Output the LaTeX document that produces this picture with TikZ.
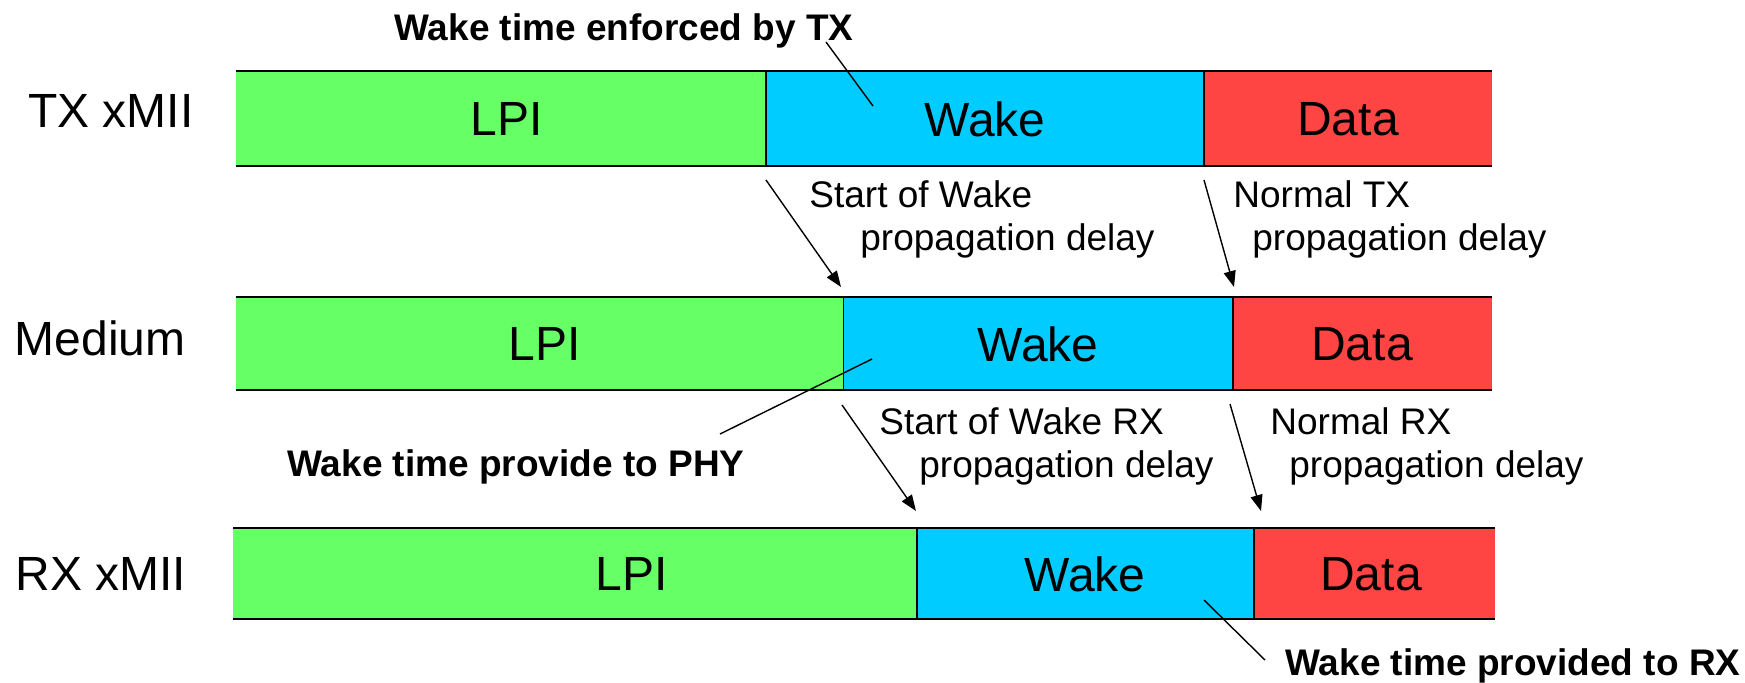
\documentclass[tikz,border=0pt]{standalone}
\usepackage{fontspec}
\setmainfont{Liberation Sans}
\usetikzlibrary{arrows.meta}
\definecolor{lpigreen}{HTML}{66FF66}
\definecolor{wakecyan}{HTML}{00CCFF}
\definecolor{datared}{HTML}{FF4444}
\tikzset{
  lpi/.style={fill=lpigreen},
  wakeseg/.style={fill=wakecyan},
  dataseg/.style={fill=datared},
  edgeline/.style={draw=black,line width=1.2pt},
  divline/.style={draw=black,line width=0.7pt},
  big/.style={font=\fontsize{24}{28}\selectfont,inner sep=0pt},
  note/.style={font=\fontsize{18.5}{22}\selectfont,inner sep=0pt,anchor=base west},
  boldnote/.style={font=\fontsize{18.5}{22}\selectfont\bfseries,inner sep=0pt,anchor=base west},
  arr/.style={draw=black,line width=0.7pt,-{Triangle[length=8pt,width=6pt]}},
  leader/.style={draw=black,line width=0.7pt},
}
\begin{document}
\begin{tikzpicture}[x=0.5pt,y=-0.5pt]
\useasboundingbox (0,0) rectangle (1745,682);
% TX row
\fill[lpi] (236,71) rectangle (766,166);
\fill[wakeseg] (766,71) rectangle (1204,166);
\fill[dataseg] (1204,71) rectangle (1492,166);
\draw[edgeline] (236,71) -- (1492,71) (236,166) -- (1492,166);
\draw[divline] (766,71) -- (766,166) (1204,71) -- (1204,166);
% Medium row
\fill[lpi] (236,297) rectangle (843.5,390);
\fill[wakeseg] (843.5,297) rectangle (1233,390);
\fill[dataseg] (1233,297) rectangle (1492,390);
\draw[edgeline] (236,297) -- (1492,297) (236,390) -- (1492,390);
\draw[divline] (843.5,297) -- (843.5,390) (1233,297) -- (1233,390);
% RX row
\fill[lpi] (233,528) rectangle (917,619);
\fill[wakeseg] (917,528) rectangle (1254,619);
\fill[dataseg] (1254,528) rectangle (1495,619);
\draw[edgeline] (233,528) -- (1495,528) (233,619) -- (1495,619);
\draw[divline] (917,528) -- (917,619) (1254,528) -- (1254,619);
% row labels
\node[big] (ltx) at (111,111) {TX xMII};
\node[big] (lmed) at (100,338) {Medium};
\node[big] (lrx) at (101,574) {RX xMII};
% segment texts
\node[big] (txlpi) at (507,119) {LPI};
\node[big] (txwake) at (985,119) {Wake};
\node[big] (txdata) at (1348,119) {Data};
\node[big] (mlpi) at (545,344) {LPI};
\node[big] (mwake) at (1038,344) {Wake};
\node[big] (mdata) at (1362,344) {Data};
\node[big] (rlpi) at (632,574) {LPI};
\node[big] (rwake) at (1085,574) {Wake};
\node[big] (rdata) at (1371,574) {Data};
% annotations
\node[boldnote] (wtx) at (394,40) {Wake time enforced by TX};
\coordinate (wtxs) at (826,42);
\coordinate (wtxe) at (873,106);
\draw[leader] (wtxs) -- (wtxe);

\node[note] (sw1) at (809,207) {Start of Wake};
\node[note] (sw2) at (860,250) {propagation delay};
\coordinate (a1s) at (766,180);
\coordinate (a1e) at (841,287);
\draw[arr] (a1s) -- (a1e);

\node[note] (nt1) at (1233,207) {Normal TX};
\node[note] (nt2) at (1252,250) {propagation delay};
\coordinate (a2s) at (1204,180);
\coordinate (a2e) at (1234,287);
\draw[arr] (a2s) -- (a2e);

\node[boldnote] (wphy) at (287,476) {Wake time provide to PHY};
\coordinate (wphys) at (720,434);
\coordinate (wphye) at (872,359);
\draw[leader] (wphys) -- (wphye);

\node[note] (sr1) at (879,434) {Start of Wake RX};
\node[note] (sr2) at (919,477) {propagation delay};
\coordinate (a3s) at (842,405);
\coordinate (a3e) at (916,511);
\draw[arr] (a3s) -- (a3e);

\node[note] (nr1) at (1270,434) {Normal RX};
\node[note] (nr2) at (1289,477) {propagation delay};
\coordinate (a4s) at (1230,404);
\coordinate (a4e) at (1261,511);
\draw[arr] (a4s) -- (a4e);

\node[boldnote] (wrx) at (1285,675) {Wake time provided to RX};
\coordinate (wrxs) at (1204,600);
\coordinate (wrxe) at (1265,660);
\draw[leader] (wrxs) -- (wrxe);
\end{tikzpicture}
\end{document}
